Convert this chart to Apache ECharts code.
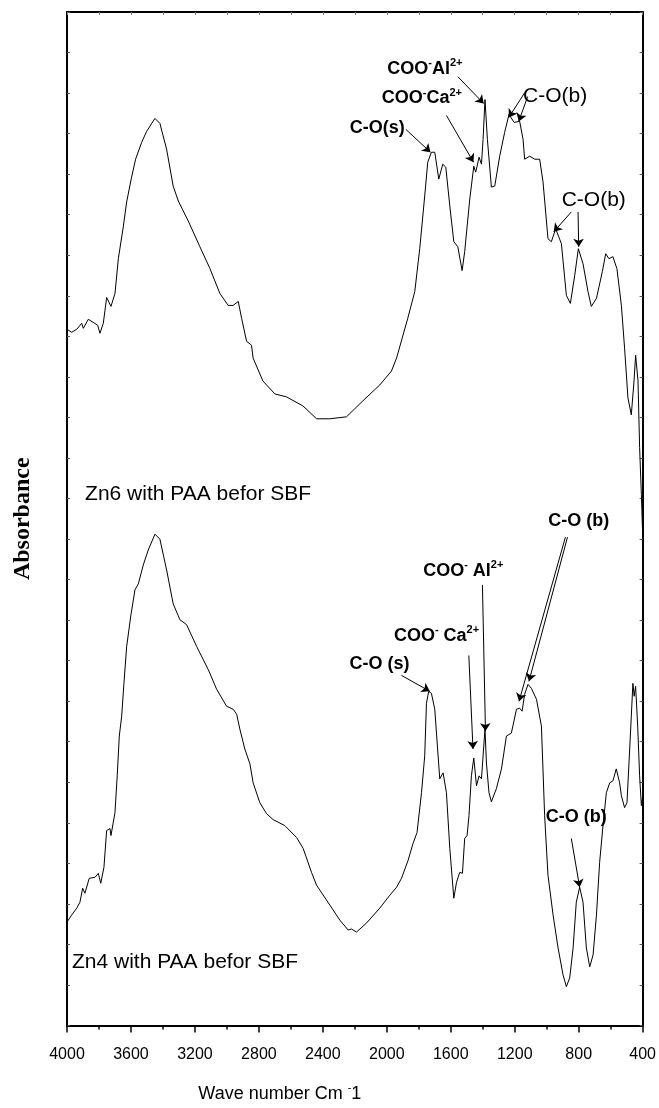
<!DOCTYPE html>
<html>
<head>
<meta charset="utf-8">
<title>FTIR spectra – Zn6 / Zn4 with PAA</title>
<script src="https://cdn.jsdelivr.net/npm/echarts@6/dist/echarts.min.js"></script>
<style>
  html, body { margin: 0; padding: 0; background: #fff; }
  #chart { width: 659px; height: 1108px; }
</style>
</head>
<body>
<div id="chart"></div>
<script>
// FTIR absorbance spectra (arbitrary units, curves offset vertically)
// [wavenumber cm^-1, absorbance a.u.]
const zn6Spectrum = [
  [4000,700],[3971,697],[3939,700],[3908,706],[3898,701],[3867,710],[3836,707],[3808,704],
  [3794,696],[3773,706],[3752,732],[3725,723],[3700,736],[3679,771],[3648,803],[3627,828],
  [3596,853],[3571,871],[3533,888],[3502,899],[3450,912],[3419,907],[3377,881],[3336,844],
  [3304,829],[3242,809],[3169,783],[3106,761],[3044,736],[2992,724],[2961,724],[2929,728],
  [2908,711],[2877,688],[2846,684],[2836,671],[2775,648],[2700,635],[2627,632],[2525,623],
  [2439,610],[2356,610],[2252,612],[2150,628],[2044,644],[1971,658],[1939,671],[1869,711],
  [1825,738],[1794,781],[1763,834],[1744,868],[1721,878],[1700,878],[1675,851],[1650,866],
  [1631,863],[1606,824],[1581,788],[1556,783],[1529,759],[1513,778],[1481,831],[1456,864],
  [1444,858],[1423,873],[1408,866],[1398,891],[1386,931],[1371,891],[1346,843],[1325,844],
  [1294,874],[1263,898],[1236,916],[1204,908],[1169,909],[1148,891],[1138,871],[1106,874],
  [1075,871],[1044,871],[1023,848],[992,791],[971,788],[944,801],[908,786],[877,734],
  [852,726],[825,754],[802,781],[773,766],[742,738],[721,723],[689,731],[652,758],
  [631,776],[611,771],[586,773],[561,761],[533,724],[513,681],[492,631],[471,614],
  [461,614],[454,648],[444,674],[429,648],[419,581],[408,534],[400,494]
];

const zn4Spectrum = [
  [4000,104],[3971,111],[3939,118],[3919,124],[3902,138],[3888,133],[3861,148],[3825,149],
  [3804,153],[3789,143],[3769,159],[3752,196],[3731,198],[3725,191],[3700,214],[3686,251],
  [3673,291],[3658,311],[3644,344],[3627,381],[3600,413],[3575,438],[3554,444],[3523,463],
  [3492,478],[3450,494],[3419,489],[3377,458],[3336,424],[3294,408],[3252,403],[3189,381],
  [3117,358],[3064,338],[3002,321],[2961,318],[2939,313],[2919,298],[2888,278],[2856,263],
  [2836,244],[2794,224],[2752,213],[2711,207],[2638,201],[2564,189],[2523,178],[2471,154],
  [2439,141],[2356,121],[2294,106],[2242,96],[2221,97],[2189,94],[2127,103],[2044,118],
  [1981,131],[1939,139],[1908,148],[1867,166],[1836,183],[1811,194],[1783,234],[1763,271],
  [1752,324],[1738,336],[1721,334],[1700,318],[1669,248],[1648,254],[1627,234],[1606,178],
  [1581,128],[1564,144],[1544,154],[1527,153],[1513,188],[1498,191],[1486,211],[1471,251],
  [1456,269],[1439,241],[1423,251],[1408,248],[1398,271],[1386,298],[1377,264],[1361,234],
  [1346,225],[1315,238],[1283,258],[1252,291],[1221,294],[1189,318],[1169,319],[1154,316],
  [1138,333],[1117,343],[1096,339],[1064,328],[1033,301],[1013,211],[992,151],[960,111],
  [929,78],[898,51],[877,39],[856,48],[835,78],[815,124],[794,139],[773,124],
  [752,78],[731,59],[710,71],[689,111],[669,164],[648,201],[627,234],[606,244],
  [586,246],[565,258],[544,244],[533,231],[513,219],[498,224],[481,278],[471,311],
  [461,344],[453,331],[444,341],[431,301],[419,251],[408,221],[400,231]
];

// band assignments: label text and its anchor [wavenumber, absorbance]
const zn6Bands = [
  { text: '{b|C-O(s)}', at: [2060, 902] },
  { text: '{b|COO}{s|-}{b|Ca}{s|2+}', at: [1781, 932] },
  { text: '{b|COO}{s|-}{b|Al}{s|2+}', at: [1762, 962] },
  { text: '{r|C-O(b)}', at: [947, 934] },
  { text: '{r|C-O(b)}', at: [706, 830] }
];
const zn6Arrows = [
  [[1881, 901], [1727, 878]],
  [[1627, 915], [1458, 868]],
  [[1556, 954], [1394, 927]],
  [[1137, 938], [1237, 913]],
  [[1119, 934], [1175, 909]],
  [[846, 818], [956, 798]],
  [[804, 818], [800, 783]]
];
const zn4Bands = [
  { text: '{b|C-O (s)}', at: [2046, 363] },
  { text: '{b|COO}{s|-}{b| Ca}{s|2+}', at: [1689, 392] },
  { text: '{b|COO}{s|-}{b| Al}{s|2+}', at: [1522, 457] },
  { text: '{b|C-O (b)}', at: [800, 507] },
  { text: '{b|C-O (b)}', at: [816, 210] }
];
const zn4Arrows = [
  [[1908, 352], [1731, 336]],
  [[1487, 372], [1461, 278]],
  [[1402, 443], [1383, 296]],
  [[883, 491], [1173, 326]],
  [[870, 491], [1111, 346]],
  [[846, 188], [794, 139]]
];
const sampleNames = ['Zn6 with PAA befor SBF', 'Zn4 with PAA befor SBF'];
const sampleNameAnchors = [[3887, 534], [3969, 64]];

const xTicks = { min: 400, max: 4000, step: 400 };
const yRange = { min: 0, max: 1019, ticks: 25 };

const SANS = 'Liberation Sans, Arial, Helvetica, sans-serif';

const bandRich = {
  b: { fontFamily: SANS, fontWeight: 'bold', fontSize: 18, color: '#000' },
  r: { fontFamily: SANS, fontSize: 21, color: '#000' },
  s: { fontFamily: SANS, fontWeight: 'bold', fontSize: 11, color: '#000', padding: [0, 0, 12, 0] }
};

function bandPoints(bands, nameIdx) {
  const pts = bands.map(b => ({
    coord: b.at,
    symbolSize: 0,
    label: { show: true, position: 'inside', formatter: b.text, rich: bandRich }
  }));
  pts.push({
    coord: sampleNameAnchors[nameIdx],
    symbolSize: 0,
    label: {
      show: true, position: 'inside', align: 'left',
      formatter: sampleNames[nameIdx],
      fontFamily: SANS, fontSize: 21, color: '#000'
    }
  });
  return pts;
}

function arrowLines(list) {
  return list.map(([a, b]) => [{ coord: a }, { coord: b }]);
}

function spectrumSeries(name, data, bands, arrows, idx) {
  return {
    name: name,
    type: 'line',
    data: data,
    showSymbol: false,
    symbol: 'none',
    lineStyle: { color: '#000', width: 1 },
    silent: true,
    markPoint: { symbol: 'circle', silent: true, data: bandPoints(bands, idx) },
    markLine: {
      silent: true,
      symbol: ['none', 'arrow'],
      symbolSize: 8,
      itemStyle: { color: '#000' },
      lineStyle: { color: '#000', width: 1, type: 'solid' },
      label: { show: false },
      emphasis: { disabled: true },
      data: arrowLines(arrows)
    }
  };
}

const axisBlack = { color: '#000', width: 2 };

const option = {
  animation: false,
  backgroundColor: '#fff',
  grid: { left: 67, right: 16, top: 12, bottom: 77 },
  xAxis: [
    {
      type: 'value', position: 'bottom', inverse: true,
      min: xTicks.min, max: xTicks.max, interval: xTicks.step,
      axisLine: { show: true, onZero: false, lineStyle: axisBlack },
      axisTick: { show: true, inside: false, length: 7, lineStyle: { color: '#000', width: 1.5 } },
      minorTick: { show: true, splitNumber: 2, length: 4, lineStyle: { color: '#000', width: 1.5 } },
      splitLine: { show: false },
      axisLabel: { margin: 21, color: '#000', fontFamily: SANS, fontSize: 16, formatter: v => String(v) },
      name: '{t|Wave number Cm }{s|-}{t|1}',
      nameLocation: 'middle',
      nameGap: 57,
      nameTextStyle: {
        padding: [0, 150, 0, 0],
        rich: {
          t: { fontFamily: SANS, fontSize: 18, color: '#000' },
          s: { fontFamily: SANS, fontSize: 11, color: '#000', padding: [0, 0, 12, 0] }
        }
      }
    },
    {
      type: 'value', position: 'top', inverse: true,
      min: xTicks.min, max: xTicks.max, interval: xTicks.step / 2,
      axisLine: { show: true, onZero: false, lineStyle: axisBlack },
      axisTick: { show: true, inside: true, length: 3, lineStyle: { color: '#777', width: 1 } },
      splitLine: { show: false },
      axisLabel: { show: false }
    }
  ],
  yAxis: [
    {
      type: 'value', position: 'left',
      min: yRange.min, max: yRange.max, interval: (yRange.max - yRange.min) / yRange.ticks,
      axisLine: { show: true, onZero: false, lineStyle: axisBlack },
      axisTick: { show: true, inside: true, length: 3, lineStyle: { color: '#555', width: 1 } },
      splitLine: { show: false },
      axisLabel: { show: false },
      name: 'Absorbance',
      nameLocation: 'middle',
      nameRotate: 90,
      nameGap: 32,
      nameTextStyle: { fontFamily: 'Liberation Serif, Times New Roman, serif', fontWeight: 'bold', fontSize: 24, color: '#000' }
    },
    {
      type: 'value', position: 'right',
      min: yRange.min, max: yRange.max, interval: (yRange.max - yRange.min) / yRange.ticks,
      axisLine: { show: true, onZero: false, lineStyle: axisBlack },
      axisTick: { show: true, inside: true, length: 3, lineStyle: { color: '#555', width: 1 } },
      splitLine: { show: false },
      axisLabel: { show: false }
    }
  ],
  series: [
    spectrumSeries(sampleNames[0], zn6Spectrum, zn6Bands, zn6Arrows, 0),
    spectrumSeries(sampleNames[1], zn4Spectrum, zn4Bands, zn4Arrows, 1)
  ]
};

const chart = echarts.init(document.getElementById('chart'), null, { renderer: 'canvas' });
chart.setOption(option);
</script>
</body>
</html>
